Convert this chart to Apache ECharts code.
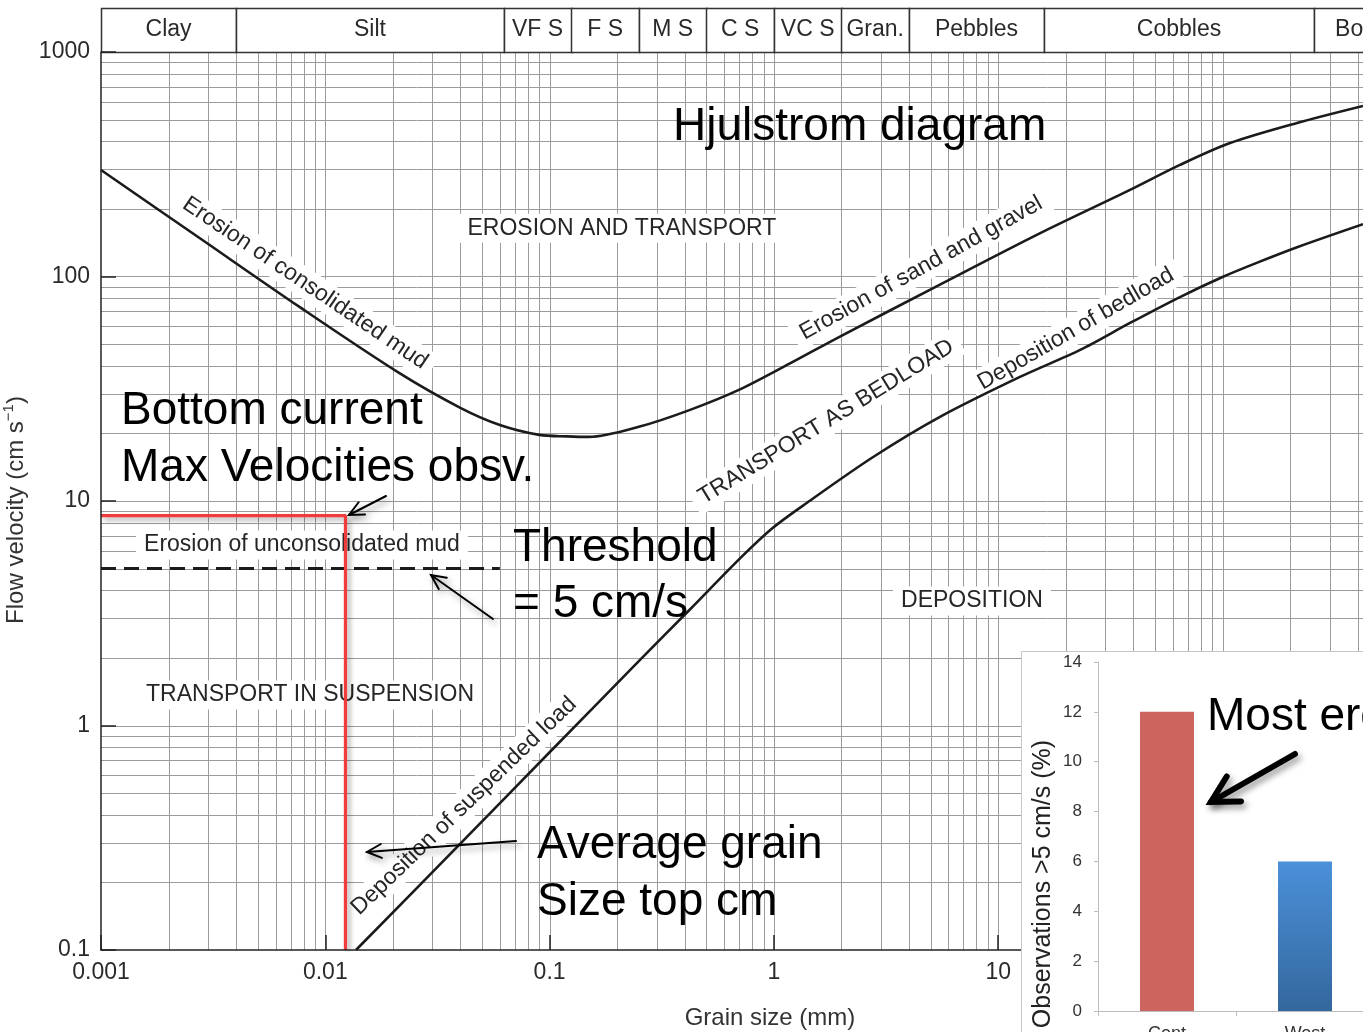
<!DOCTYPE html>
<html>
<head>
<meta charset="utf-8">
<title>Hjulstrom diagram</title>
<script src="https://cdn.jsdelivr.net/npm/echarts@6/dist/echarts.min.js"></script>
<style>
  html, body { margin: 0; padding: 0; background: #fff; }
  #chart { width: 1363px; height: 1032px; }
</style>
</head>
<body>
<div id="chart"></div>
<script>
// ---- Threshold curves: [grain size (mm), flow velocity (cm/s)] ----
const erosionCurve = [
  [0.001, 298], [0.00276, 148], [0.0077, 73], [0.0215, 37], [0.04, 26],
  [0.06, 21.8], [0.09, 19.7], [0.12, 19.4], [0.15, 19.3], [0.25, 21.4],
  [0.42, 25.4], [0.71, 31.5], [1.18, 41], [1.97, 54], [5.5, 92],
  [15.4, 156], [38.7, 243], [64.6, 314], [108, 393],
  [215, 483], [423, 575]
];
const depositionCurve = [
  [0.0137, 0.1], [0.0403, 0.3], [0.1, 0.76], [0.253, 1.96], [0.42, 3.27],
  [0.71, 5.58], [0.99, 7.6], [1.4, 9.8], [2.77, 15.7], [5.5, 23.7],
  [12.5, 35.7], [23.2, 47.1], [38.7, 62.1], [64.6, 81], [100, 99.5],
  [142, 115], [215, 135], [423, 171]
];

// ---- Observations ----
const maxVelocity = 8.6;        // cm/s, maximum bottom current observed
const avgGrainSize = 0.0123;    // mm, average grain size of the top cm
const threshold = 5;            // cm/s
const thresholdSpan = [0.001, 0.06];

// ---- Grain size classes ----
const sizeClassBounds = [0.001, 0.004, 0.0625, 0.125, 0.25, 0.5, 1, 2, 4, 16, 256, 1000];
const sizeClassNames = ['Clay', 'Silt', 'VF S', 'F S', 'M S', 'C S', 'VC S', 'Gran.', 'Pebbles', 'Cobbles', 'Boulders'];

// ---- Axis ticks ----
const xTickValues = [0.001, 0.01, 0.1, 1, 10];
const xTickLabels = ['0.001', '0.01', '0.1', '1', '10'];
const yTickValues = [0.1, 1, 10, 100, 1000];
const yTickLabels = ['0.1', '1', '10', '100', '1000'];
const gridMultipliers = [1, 2, 3, 4, 5, 6, 7, 8, 9];
const xDecades = [-3, -2, -1, 0, 1, 2];
const yDecades = [-1, 0, 1, 2];

// ---- Inset: share of observations above the threshold ----
const sites = ['Cent', 'West'];
const obsAbove5 = [12, 6];

// ---- Region and curve labels ----
const regionLabels = [
  { text: 'EROSION AND TRANSPORT', at: [0.21, 164], angle: 0 },
  { text: 'Erosion of consolidated mud', at: [0.00812, 93.5], angle: -34 },
  { text: 'Erosion of sand and gravel', at: [4.53, 109], angle: 29 },
  { text: 'TRANSPORT AS BEDLOAD', at: [1.71, 22.5], angle: 31.5 },
  { text: 'Deposition of bedload', at: [22.2, 58.4], angle: 30 },
  { text: 'Deposition of suspended load', at: [0.0415, 0.438], angle: 44 },
  { text: 'Erosion of unconsolidated mud', at: [0.00787, 6.37], angle: 0 },
  { text: 'TRANSPORT IN SUSPENSION', at: [0.00855, 1.367], angle: 0 },
  { text: 'DEPOSITION', at: [7.64, 3.586], angle: 0 }
];

const X_MIN = 0.001, X_MAX = 423, Y_MIN = 0.1, Y_MAX = 1000;
const FONT = '"Liberation Sans", Arial, Helvetica, sans-serif';

function tickText(values, labels) {
  return function (v) {
    for (let i = 0; i < values.length; i++) {
      if (Math.abs(Math.log10(v) - Math.log10(values[i])) < 1e-6) return labels[i];
    }
    return '';
  };
}

// log grid positions inside the plotting area
const xGrid = [], yGrid = [];
xDecades.forEach(d => gridMultipliers.forEach(m => {
  const v = m * Math.pow(10, d);
  if (v > X_MIN * 1.0001 && v < X_MAX) xGrid.push(v);
}));
yDecades.forEach(d => gridMultipliers.forEach(m => {
  const v = m * Math.pow(10, d);
  if (v > Y_MIN * 1.0001 && v < Y_MAX * 0.9999) yGrid.push(v);
}));

const GRID_COLOR = '#9c9c9c';
const AXIS_DARK = '#222';

function renderVerticalGrid(params, api) {
  const cs = params.coordSys;
  const p = api.coord([api.value(0), 1]);
  const x = Math.round(p[0]) + 0.5;
  return { type: 'line', shape: { x1: x, y1: cs.y, x2: x, y2: cs.y + cs.height },
           style: { stroke: GRID_COLOR, lineWidth: 1 } };
}
function renderHorizontalGrid(params, api) {
  const cs = params.coordSys;
  const p = api.coord([0.01, api.value(1)]);
  const y = Math.round(p[1]) + 0.5;
  return { type: 'line', shape: { x1: cs.x, y1: y, x2: cs.x + cs.width, y2: y },
           style: { stroke: GRID_COLOR, lineWidth: 1 } };
}
function renderSizeClass(params, api) {
  const i = params.dataIndex;
  const x0 = api.value(0), x1 = api.value(1);
  const a = api.coord([x0, 1]);
  const b = api.coord([x1, 0]);
  const m = api.coord([Math.sqrt(x0 * x1), 0.5]);
  return {
    type: 'group',
    children: [
      { type: 'rect', shape: { x: Math.round(a[0]) + 0.5, y: Math.round(a[1]) + 0.5,
          width: Math.round(b[0] - a[0]), height: Math.round(b[1] - a[1]) },
        style: { fill: '#fff', stroke: '#333', lineWidth: 1.5 } },
      { type: 'text', x: m[0], y: m[1],
        style: { text: sizeClassNames[i], fill: '#2a2a2a', font: '23px ' + FONT,
                 align: 'center', verticalAlign: 'middle' } }
    ]
  };
}

const chart = echarts.init(document.getElementById('chart'), null, { renderer: 'canvas' });

const barColors = [
  '#cc655e',
  new echarts.graphic.LinearGradient(0, 0, 0, 1, [
    { offset: 0, color: '#4b90d9' }, { offset: 1, color: '#33679d' }
  ])
];

const gridBase = { containLabel: false, outerBoundsMode: 'none' };

const option = {
  animation: false,
  backgroundColor: '#fff',
  textStyle: { fontFamily: FONT },
  grid: [
    Object.assign({ left: 101, top: 52, right: 0, bottom: 82 }, gridBase),
    Object.assign({ left: 101, top: 8, right: 0, height: 44 }, gridBase),
    Object.assign({ left: 1098, top: 662, width: 276, height: 349 }, gridBase)
  ],
  xAxis: [
    {
      gridIndex: 0, type: 'log', logBase: 10, min: X_MIN, max: X_MAX, z: 10,
      axisLine: { show: true, onZero: false, lineStyle: { color: AXIS_DARK, width: 1.5 } },
      axisTick: { show: true, inside: true, length: 15, customValues: xTickValues,
                  lineStyle: { color: AXIS_DARK, width: 1.5 } },
      axisLabel: { customValues: xTickValues, formatter: tickText(xTickValues, xTickLabels),
                   color: '#2a2a2a', fontSize: 23, margin: 11 },
      splitLine: { show: false },
      name: 'Grain size (mm)', nameLocation: 'middle', nameGap: 56,
      nameTextStyle: { fontSize: 24, color: '#333', padding: [0, 0, 0, 76] }
    },
    { gridIndex: 1, type: 'log', logBase: 10, min: X_MIN, max: X_MAX, show: false },
    {
      gridIndex: 2, type: 'category', data: sites, z: 21,
      axisLine: { show: true, lineStyle: { color: '#bdbdbd', width: 1 } },
      axisTick: { show: true, length: 5, lineStyle: { color: '#bdbdbd' } },
      axisLabel: { color: '#333', fontSize: 18, margin: 14 }
    }
  ],
  yAxis: [
    {
      gridIndex: 0, type: 'log', logBase: 10, min: Y_MIN, max: Y_MAX, z: 10,
      axisLine: { show: true, onZero: false, lineStyle: { color: AXIS_DARK, width: 1.5 } },
      axisTick: { show: true, inside: true, length: 15, customValues: yTickValues,
                  lineStyle: { color: AXIS_DARK, width: 1.5 } },
      axisLabel: { customValues: yTickValues, formatter: tickText(yTickValues, yTickLabels),
                   color: '#2a2a2a', fontSize: 23, margin: 11 },
      splitLine: { show: false },
      name: 'Flow velocity (cm s{sup|−1})', nameLocation: 'middle', nameGap: 62,
      nameTextStyle: { fontSize: 24, color: '#333', padding: [0, 18, 0, 0],
                       rich: { sup: { fontSize: 15, color: '#333', padding: [0, 0, 15, 0] } } }
    },
    { gridIndex: 1, type: 'value', min: 0, max: 1, show: false },
    {
      gridIndex: 2, type: 'value', min: 0, max: 14, interval: 2, z: 21,
      axisLine: { show: true, lineStyle: { color: '#bdbdbd', width: 1 } },
      axisTick: { show: true, length: 4, lineStyle: { color: '#bdbdbd' } },
      axisLabel: { color: '#333', fontSize: 17, margin: 16 },
      splitLine: { show: false }
    }
  ],
  series: [
    { // vertical log grid
      type: 'custom', xAxisIndex: 0, yAxisIndex: 0, z: 1, silent: true,
      renderItem: renderVerticalGrid, data: xGrid.map(v => [v, 1])
    },
    { // horizontal log grid
      type: 'custom', xAxisIndex: 0, yAxisIndex: 0, z: 1, silent: true,
      renderItem: renderHorizontalGrid, data: yGrid.map(v => [0.01, v])
    },
    { // grain size class header
      type: 'custom', xAxisIndex: 1, yAxisIndex: 1, z: 2, silent: true,
      renderItem: renderSizeClass,
      data: sizeClassNames.map((n, i) => [sizeClassBounds[i], sizeClassBounds[i + 1]])
    },
    { // region and curve labels
      type: 'scatter', xAxisIndex: 0, yAxisIndex: 0, z: 3, silent: true,
      symbolSize: 0, itemStyle: { opacity: 1 },
      label: { show: true, position: 'inside', color: '#262626', fontSize: 23,
               backgroundColor: '#fff', padding: [3, 8] },
      data: regionLabels.map(l => ({ value: l.at, label: { rotate: l.angle, formatter: l.text } }))
    },
    {
      name: 'Erosion', type: 'line', xAxisIndex: 0, yAxisIndex: 0, z: 5,
      data: erosionCurve, smooth: 0.3, symbol: 'none', silent: true,
      lineStyle: { color: '#1b1b1b', width: 2.6 }
    },
    {
      name: 'Deposition', type: 'line', xAxisIndex: 0, yAxisIndex: 0, z: 5,
      data: depositionCurve, smooth: 0.3, symbol: 'none', silent: true,
      lineStyle: { color: '#1b1b1b', width: 2.6 }
    },
    {
      name: 'Threshold', type: 'line', xAxisIndex: 0, yAxisIndex: 0, z: 6,
      data: [[thresholdSpan[0], threshold], [thresholdSpan[1], threshold]],
      symbol: 'none', silent: true,
      lineStyle: { color: '#1b1b1b', width: 3, type: [15, 8] }
    },
    {
      name: 'Observed', type: 'line', xAxisIndex: 0, yAxisIndex: 0, z: 7,
      data: [[X_MIN, maxVelocity], [avgGrainSize, maxVelocity], [avgGrainSize, Y_MIN]],
      symbol: 'none', silent: true,
      lineStyle: { color: '#f23b3b', width: 3.2, shadowColor: 'rgba(0,0,0,0.35)',
                   shadowBlur: 5, shadowOffsetX: 3, shadowOffsetY: 3 }
    },
    {
      name: 'Observations >5 cm/s', type: 'bar', xAxisIndex: 2, yAxisIndex: 2, z: 21,
      barWidth: 54, silent: true,
      data: obsAbove5.map((v, i) => ({ value: v, itemStyle: { color: barColors[i] } }))
    }
  ]
};

// ---- annotations ----
function arrow(x1, y1, x2, y2, head, spread, width, z) {
  const a = Math.atan2(y2 - y1, x2 - x1);
  const b1 = [x2 - head * Math.cos(a - spread), y2 - head * Math.sin(a - spread)];
  const b2 = [x2 - head * Math.cos(a + spread), y2 - head * Math.sin(a + spread)];
  const style = { stroke: '#000', lineWidth: width, fill: null, lineCap: 'round', lineJoin: 'miter',
                  shadowColor: 'rgba(0,0,0,0.4)', shadowBlur: 6, shadowOffsetX: 3, shadowOffsetY: 4 };
  return [
    { type: 'line', z: z, silent: true, shape: { x1, y1, x2, y2 }, style: Object.assign({}, style) },
    { type: 'polyline', z: z, silent: true, shape: { points: [b1, [x2, y2], b2] }, style: Object.assign({}, style) }
  ];
}
function bigText(text, left, baseline, size, z) {
  return { type: 'text', z: z || 30, silent: true, x: left, y: baseline - 0.347 * size,
           style: { text: text, fill: '#000', font: size + 'px ' + FONT,
                    align: 'left', verticalAlign: 'middle' } };
}

option.graphic = [
  { type: 'rect', z: 20, silent: true, shape: { x: 1021.5, y: 651.5, width: 420, height: 420 },
    style: { fill: '#fff', stroke: '#c6c6c6', lineWidth: 1 } },
  { type: 'text', z: 22, silent: true, x: 1043, y: 884, rotation: Math.PI / 2,
    style: { text: 'Observations >5 cm/s (%)', fill: '#222', font: '25px ' + FONT,
             align: 'center', verticalAlign: 'middle' } },
  bigText('Hjulstrom diagram', 673, 143, 46),
  bigText('Bottom current', 121, 427, 46),
  bigText('Max Velocities obsv.', 121, 484, 46),
  bigText('Threshold', 513, 564, 46),
  bigText('= 5 cm/s', 513, 620, 46),
  bigText('Average grain', 537, 861, 46),
  bigText('Size top cm', 537, 918, 46),
  bigText('Most erosion', 1207, 733, 46)
]
  .concat(arrow(386, 496, 349, 515, 16, 0.45, 2, 30))
  .concat(arrow(493, 619, 431, 575, 16, 0.45, 2, 30))
  .concat(arrow(516, 841, 367, 852, 16, 0.45, 2, 30))
  .concat(arrow(1295, 754, 1211, 802, 30, 0.5, 6, 30));

chart.setOption(option);
</script>
</body>
</html>
